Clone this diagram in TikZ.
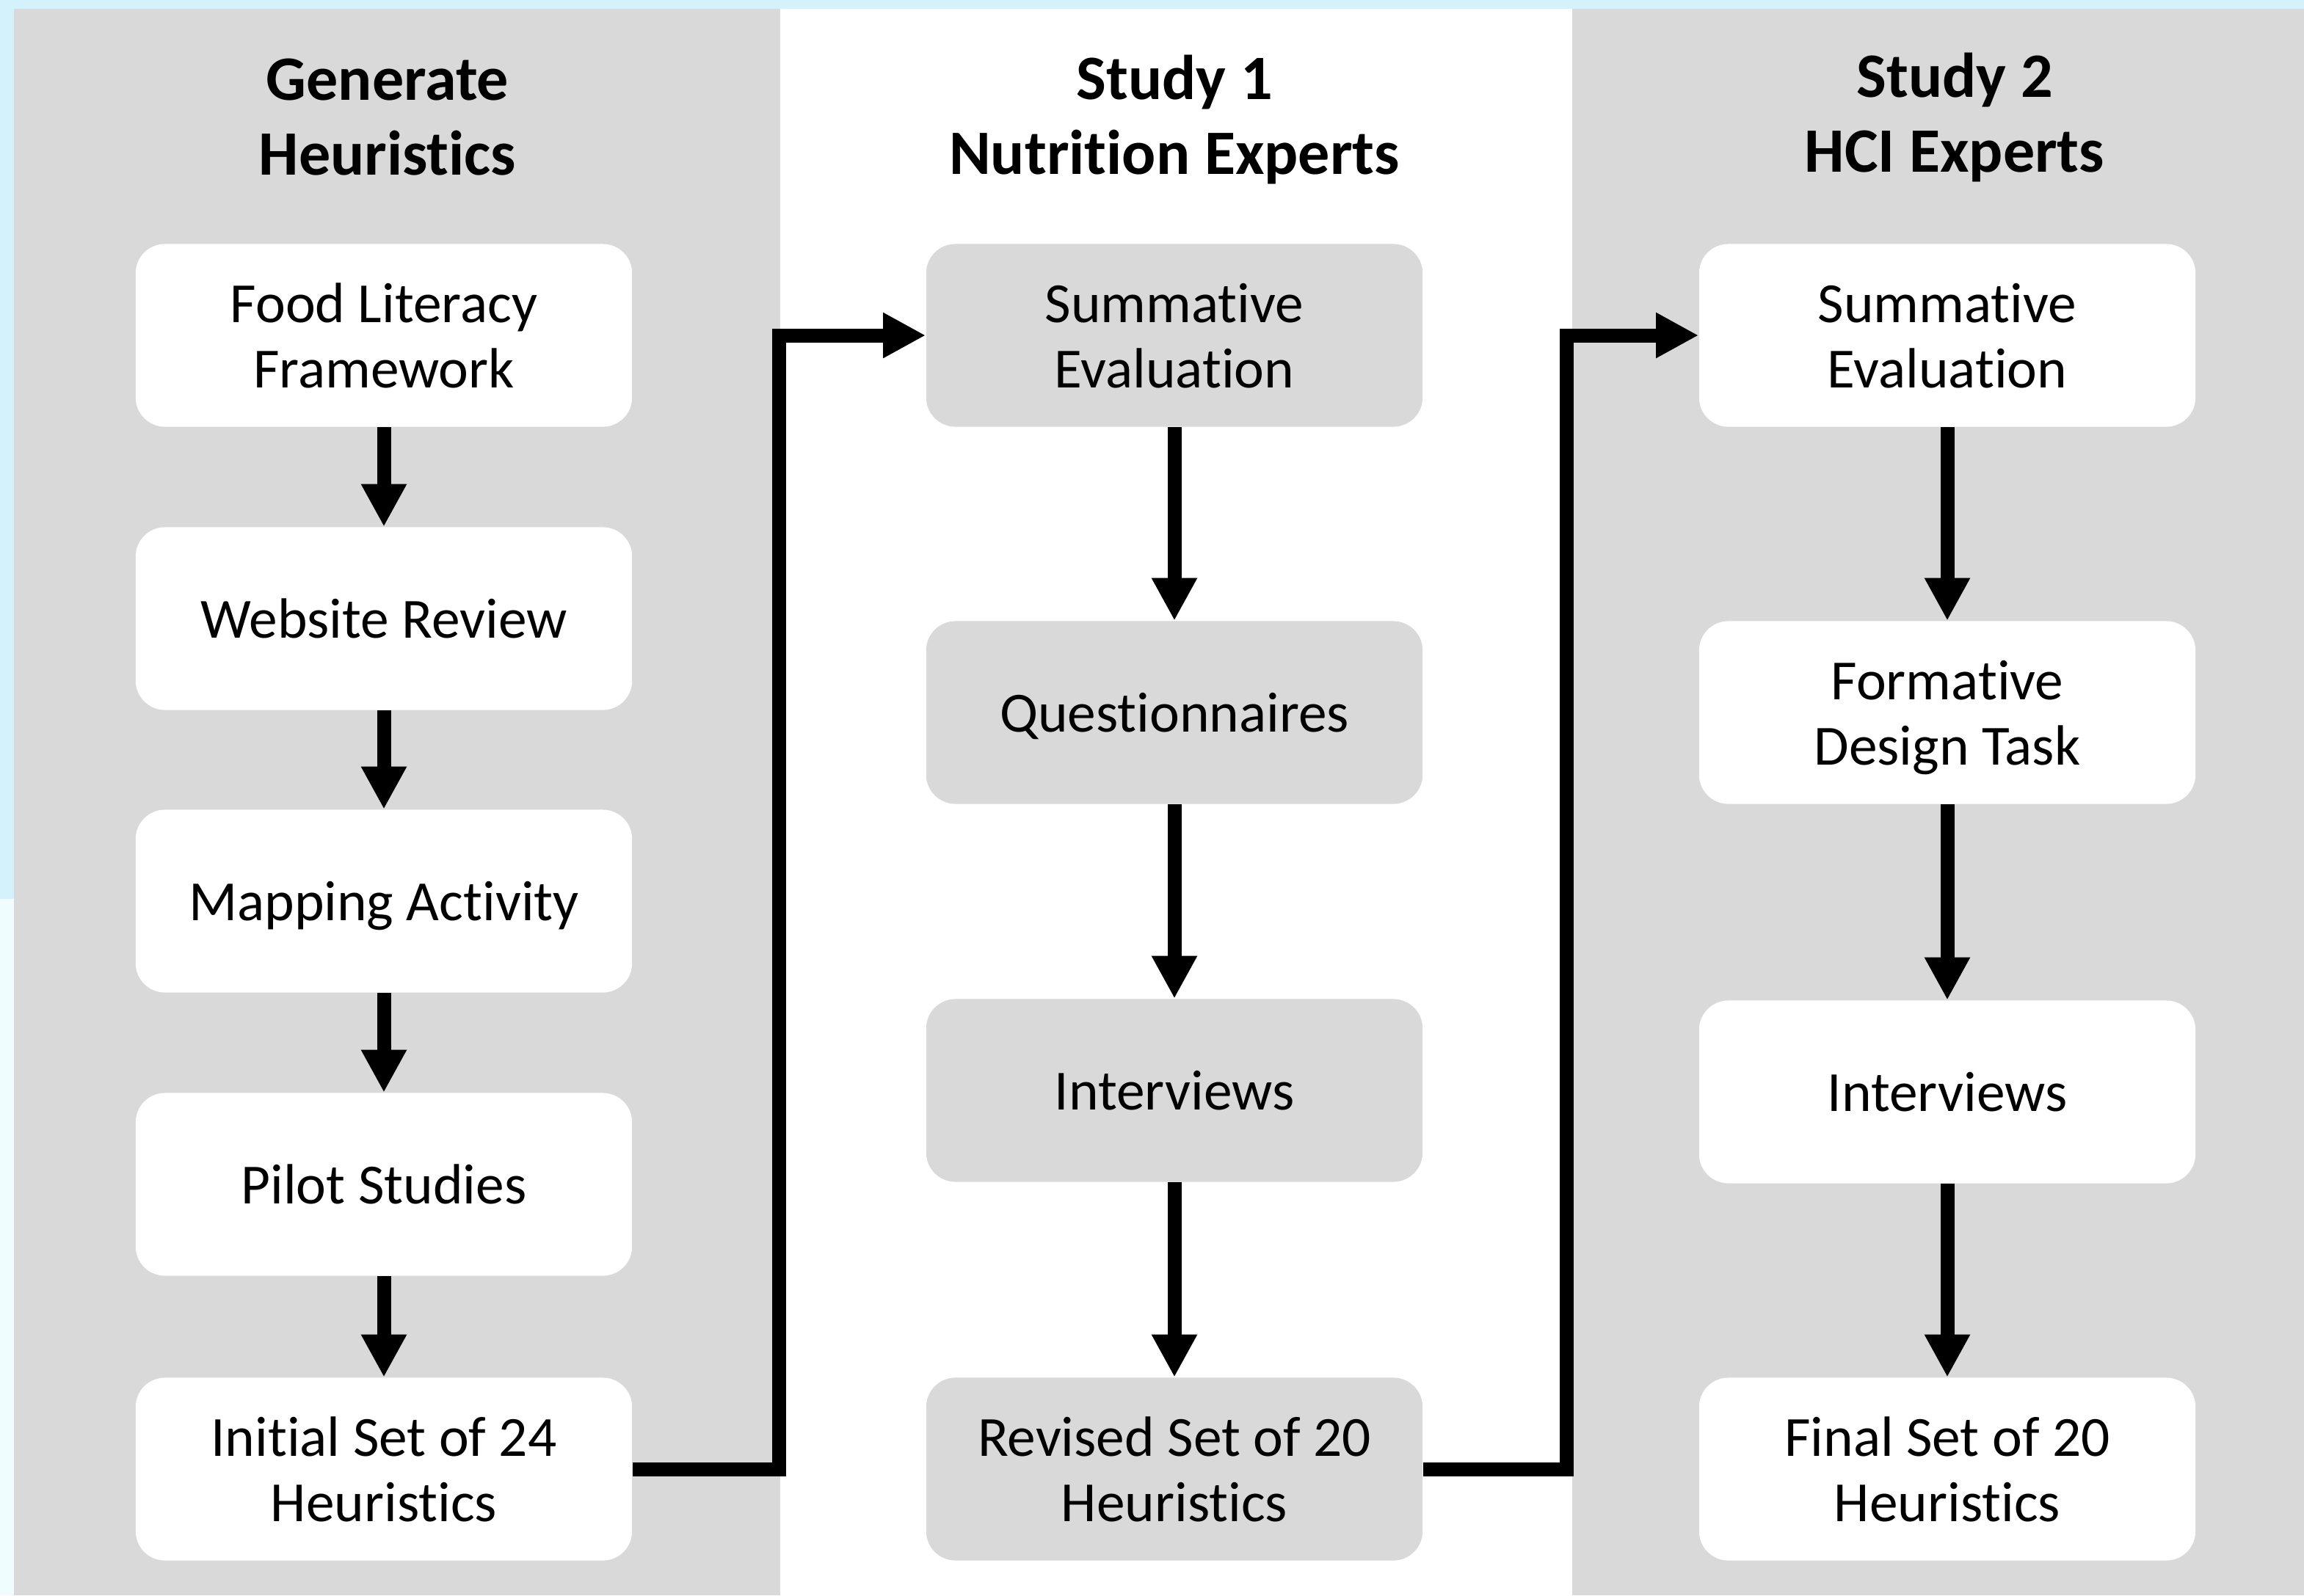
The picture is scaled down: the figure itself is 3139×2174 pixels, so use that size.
\documentclass[tikz,border=0pt]{standalone}
\usepackage{fontspec}
\setmainfont{Carlito}[Ligatures={NoCommon,NoContextual}]
\usetikzlibrary{arrows.meta}
\definecolor{colgray}{HTML}{D9D9D9}
\definecolor{skyblue}{HTML}{D4F2FB}
\definecolor{paleblue}{HTML}{F0FDFF}
\tikzset{
  box/.style={rounded corners=0.4cm, minimum width=6.76cm, minimum height=2.49cm, inner sep=0pt, align=center, text depth=0pt, font=\fontsize{22}{25.3}\selectfont},
  wbox/.style={box, fill=white},
  gbox/.style={box, fill=colgray},
  ttl/.style={align=center, inner sep=0pt, font=\fontsize{24.5}{29}\selectfont\bfseries},
  conn/.style={line width=0.19cm, -{Triangle[width=0.58cm,length=0.58cm]}}
}
\begin{document}
\begin{tikzpicture}[x=0.01cm, y=-0.01cm]
\fill[skyblue] (0,0) rectangle (3139,2174);
\fill[paleblue] (0,1225) rectangle (19,2174);
\fill[colgray] (19,12) rectangle (1063,2174);
\fill[white] (1063,12) rectangle (2142,2174);
\fill[colgray] (2142,12) rectangle (3139,2174);
\useasboundingbox (0,0) rectangle (3139,2174);

\node[ttl] (t1) at (528,160) {Generate\\Heuristics};
\node[ttl] (t2) at (1600,163) {Study 1\\Nutrition Experts};
\node[ttl] (t3) at (2663,160) {Study 2\\HCI Experts};

\node[wbox] (a1) at (523,457) {Food Literacy\\Framework};
\node[wbox] (a2) at (523,843) {Website Review};
\node[wbox] (a3) at (523,1228) {Mapping Activity};
\node[wbox] (a4) at (523,1614) {Pilot Studies};
\node[wbox] (a5) at (523,2002) {Initial Set of 24\\Heuristics};

\node[gbox] (b1) at (1600,457) {Summative\\Evaluation};
\node[gbox] (b2) at (1600,971) {Questionnaires};
\node[gbox] (b3) at (1600,1486) {Interviews};
\node[gbox] (b4) at (1600,2002) {Revised Set of 20\\Heuristics};

\node[wbox] (c1) at (2653,457) {Summative\\Evaluation};
\node[wbox] (c2) at (2653,971) {Formative\\Design Task};
\node[wbox] (c3) at (2653,1488) {Interviews};
\node[wbox] (c4) at (2653,2002) {Final Set of 20\\Heuristics};

\draw[conn] (a1) -- (a2);
\draw[conn] (a2) -- (a3);
\draw[conn] (a3) -- (a4);
\draw[conn] (a4) -- (a5);
\draw[conn] (b1) -- (b2);
\draw[conn] (b2) -- (b3);
\draw[conn] (b3) -- (b4);
\draw[conn] (c1) -- (c2);
\draw[conn] (c2) -- (c3);
\draw[conn] (c3) -- (c4);

\coordinate (j1) at (1061,1200);
\coordinate (j2) at (2134,1200);
\draw[conn] (a5.east) -| (j1) |- (b1.west);
\draw[conn] (b4.east) -| (j2) |- (c1.west);
\end{tikzpicture}
\end{document}
